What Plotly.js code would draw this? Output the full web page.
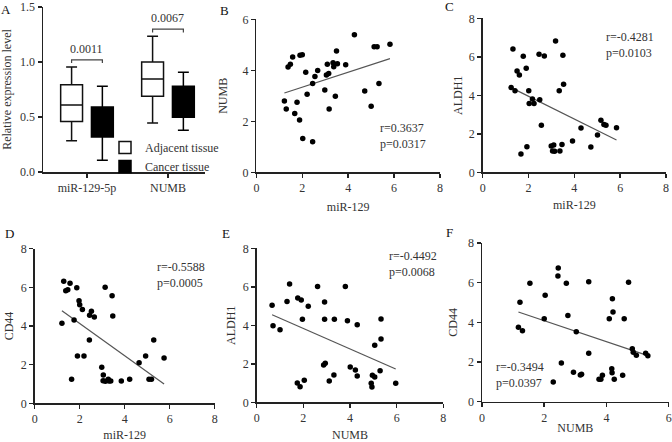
<!DOCTYPE html>
<html><head><meta charset="utf-8">
<script src="https://cdn.plot.ly/plotly-3.0.1.min.js"></script>
<style>html,body{margin:0;padding:0;background:#fff}#chart{width:672px;height:442px}</style>
</head><body><div id="chart"></div><script>
// ---------- Panel A: box plots ----------
const boxCategories = ['miR-129-5p', 'NUMB'];
const groupNames = ['Adjacent tissue', 'Cancer tissue'];
const adjLower = [0.285, 0.445];
const adjQ1 = [0.46, 0.688];
const adjMedian = [0.609, 0.845];
const adjQ3 = [0.794, 1.0];
const adjUpper = [0.955, 1.233];
const canLower = [0.106, 0.379];
const canQ1 = [0.318, 0.497];
const canMedian = [0.45, 0.63];
const canQ3 = [0.59, 0.779];
const canUpper = [0.779, 0.906];
const pValuesA = ['0.0011', '0.0067'];

// ---------- Panel B: miR-129 vs NUMB ----------
const bX = [1.22,1.30,1.38,1.48,1.58,1.67,1.77,1.88,1.90,2.00,2.02,2.15,2.21,2.45,2.45,2.55,2.67,2.98,3.05,3.09,3.15,3.17,3.34,3.37,3.44,3.49,3.53,3.89,4.27,4.72,5.00,5.13,5.26,5.34,5.82];
const bY = [2.80,2.48,4.13,4.24,4.52,2.31,2.75,2.05,4.59,4.61,1.33,3.92,3.06,1.20,3.48,3.76,3.99,3.23,3.82,4.24,3.87,2.48,4.30,4.14,2.98,4.76,4.26,4.22,5.39,3.19,2.59,4.92,4.92,3.48,5.02];
const bFitX = [1.22, 5.82];
const bFitY = [3.11, 4.46];
const bStats = 'r=0.3637<br>p=0.0317';

// ---------- Panel C: miR-129 vs ALDH1 ----------
const cX = [1.24,1.32,1.41,1.50,1.60,1.67,1.77,1.90,1.93,2.01,2.03,2.17,2.24,2.46,2.49,2.56,2.69,2.99,3.05,3.10,3.14,3.18,3.34,3.37,3.46,3.50,3.53,3.92,4.29,4.72,5.01,5.16,5.29,5.38,5.84];
const cY = [4.40,6.41,4.24,5.26,5.06,0.95,6.03,5.40,1.33,4.24,3.58,3.81,3.57,6.13,3.77,2.44,6.04,1.37,1.11,1.42,1.09,6.82,4.24,1.11,1.45,6.08,4.57,1.63,2.30,1.32,1.94,2.70,2.48,2.44,2.32];
const cFitX = [1.24, 5.84];
const cFitY = [4.40, 1.68];
const cStats = 'r=-0.4281<br>p=0.0103';

// ---------- Panel D: miR-129 vs CD44 ----------
const dX = [1.21,1.29,1.38,1.47,1.57,1.64,1.75,1.87,1.90,1.97,2.00,2.12,2.19,2.43,2.44,2.52,2.65,2.98,3.05,3.04,3.14,3.27,3.30,3.38,3.13,3.44,3.47,3.85,4.22,4.64,4.93,5.08,5.19,5.29,5.75];
const dY = [4.14,6.31,5.83,5.88,6.21,1.24,4.31,5.98,2.45,5.31,5.10,4.86,2.45,3.28,4.55,4.76,4.47,1.86,1.47,1.17,1.14,1.24,1.16,1.16,6.00,5.57,4.52,1.16,1.24,2.10,2.45,1.24,1.24,3.28,2.34];
const dFitX = [1.21, 5.75];
const dFitY = [4.79, 1.00];
const dStats = 'r=-0.5588<br>p=0.0005';

// ---------- Panel E: NUMB vs ALDH1 ----------
const eX = [0.66,0.70,1.00,1.30,1.41,1.74,1.76,1.86,1.91,1.96,2.04,2.21,2.61,2.87,2.91,2.91,2.94,3.11,3.31,3.33,3.80,3.89,4.01,4.23,4.31,4.31,4.91,4.94,4.96,5.06,5.06,5.29,5.33,5.33,5.96];
const eY = [5.04,3.98,3.77,5.23,6.15,1.00,5.42,0.81,5.32,4.31,1.14,4.99,6.01,1.94,5.21,4.31,2.03,1.11,1.42,4.31,6.01,4.24,1.84,1.68,4.03,1.37,0.99,0.80,1.40,1.32,2.96,1.64,3.29,4.33,0.99];
const eFitX = [0.66, 5.96];
const eFitY = [4.55, 1.73];
const eStats = 'r=-0.4492<br>p=0.0068';

// ---------- Panel F: NUMB vs CD44 ----------
const fX = [1.17,1.22,1.30,1.54,2.00,2.03,2.29,2.44,2.45,2.55,2.71,2.76,2.94,3.03,3.16,3.20,3.43,3.43,3.76,3.82,3.87,4.09,4.17,4.18,4.19,4.21,4.25,4.52,4.57,4.71,4.83,4.86,4.96,5.26,5.33];
const fY = [3.75,5.01,3.58,5.97,4.18,5.36,0.99,6.34,6.74,1.95,5.97,4.35,1.48,3.53,1.34,1.39,2.44,6.05,1.13,1.13,1.33,4.18,1.66,1.46,5.19,4.52,1.13,1.33,4.18,6.02,2.67,2.49,2.34,2.44,2.32];
const fFitX = [1.17, 5.33];
const fFitY = [4.52, 2.32];
const fStats = 'r=-0.3494<br>p=0.0397';

// ---------- build ----------
const FONT = 'Liberation Serif, Times New Roman, serif';
const TXT = '#333';
const AX = '#222';
const boxOff = 0.19;
const idx = boxCategories.map((c, i) => i);

const traces = [];
traces.push({
  type: 'box', name: groupNames[0], xaxis: 'x', yaxis: 'y',
  x: idx.map(i => i - boxOff), q1: adjQ1, median: adjMedian, q3: adjQ3,
  lowerfence: adjLower, upperfence: adjUpper,
  width: 0.27, whiskerwidth: 0.5, fillcolor: '#ffffff',
  line: {color: '#111', width: 1.5}, boxpoints: false, hoverinfo: 'skip'
});
traces.push({
  type: 'box', name: groupNames[1], xaxis: 'x', yaxis: 'y',
  x: idx.map(i => i + boxOff), q1: canQ1, median: canMedian, q3: canQ3,
  lowerfence: canLower, upperfence: canUpper,
  width: 0.27, whiskerwidth: 0.5, fillcolor: '#000000',
  line: {color: '#000', width: 1.5}, boxpoints: false, hoverinfo: 'skip'
});

const panels = [
  {x: bX, y: bY, fx: bFitX, fy: bFitY, ax: 'x2', ay: 'y2'},
  {x: cX, y: cY, fx: cFitX, fy: cFitY, ax: 'x3', ay: 'y3'},
  {x: dX, y: dY, fx: dFitX, fy: dFitY, ax: 'x4', ay: 'y4'},
  {x: eX, y: eY, fx: eFitX, fy: eFitY, ax: 'x5', ay: 'y5'},
  {x: fX, y: fY, fx: fFitX, fy: fFitY, ax: 'x6', ay: 'y6'}
];
panels.forEach(p => {
  traces.push({type: 'scatter', mode: 'lines', x: p.fx, y: p.fy, xaxis: p.ax, yaxis: p.ay,
    line: {color: '#555', width: 1.2}, showlegend: false, hoverinfo: 'skip'});
  traces.push({type: 'scatter', mode: 'markers', x: p.x, y: p.y, xaxis: p.ax, yaxis: p.ay,
    marker: {color: '#000', size: 5.5}, showlegend: false, hoverinfo: 'skip'});
});

const W = 672, H = 442;
const dx = (a, b) => [a / W, b / W];
const dy = (top, bottom) => [1 - bottom / H, 1 - top / H];

function axis(extra) {
  return Object.assign({
    showgrid: false, zeroline: false, showline: true, linecolor: AX, linewidth: 1.5,
    ticks: 'outside', ticklen: 4, tickwidth: 1.5, tickcolor: AX,
    tickfont: {family: FONT, size: 12, color: TXT}, fixedrange: true
  }, extra);
}
function ttl(text, standoff) {
  return {text: text, font: {family: FONT, size: 12, color: TXT}, standoff: standoff};
}

const layout = {
  width: W, height: H, margin: {l: 0, r: 0, t: 0, b: 0},
  paper_bgcolor: '#fff', plot_bgcolor: 'rgba(0,0,0,0)',
  font: {family: FONT, color: TXT, size: 12},
  showlegend: true,
  legend: {x: 105 / W, y: 1 - 133 / H, xanchor: 'left', yanchor: 'top',
    font: {family: FONT, size: 12, color: TXT}, bgcolor: 'rgba(0,0,0,0)', tracegroupgap: 0},
  boxmode: 'overlay',
  xaxis: axis({domain: dx(43, 205), range: [-0.543, 1.457], anchor: 'y',
    tickvals: idx, ticktext: boxCategories}),
  yaxis: axis({domain: dy(7, 172), range: [0, 1.5], anchor: 'x', dtick: 0.5, tickformat: '.1f',
    title: ttl('Relative expression level', 11)}),
  xaxis2: axis({domain: dx(256.4, 440), range: [0, 8], dtick: 2, anchor: 'y2', title: ttl('miR-129', 8)}),
  yaxis2: axis({domain: dy(19.3, 172.3), range: [0, 6], dtick: 2, anchor: 'x2', title: ttl('NUMB', 12)}),
  xaxis3: axis({domain: dx(482.7, 666), range: [0, 8], dtick: 2, anchor: 'y3', title: ttl('miR-129', 6)}),
  yaxis3: axis({domain: dy(18.3, 172.3), range: [0, 8], dtick: 2, anchor: 'x3', title: ttl('ALDH1', 3)}),
  xaxis4: axis({domain: dx(34.7, 214.7), range: [0, 8], dtick: 2, anchor: 'y4', title: ttl('miR-129', 9)}),
  yaxis4: axis({domain: dy(248.7, 403.3), range: [0, 8], dtick: 2, anchor: 'x4', title: ttl('CD44', 4)}),
  xaxis5: axis({domain: dx(256.7, 443.3), range: [0, 8], dtick: 2, anchor: 'y5', title: ttl('NUMB', 9)}),
  yaxis5: axis({domain: dy(248.3, 402.3), range: [0, 8], dtick: 2, anchor: 'x5', title: ttl('ALDH1', 4)}),
  xaxis6: axis({domain: dx(482, 668.7), range: [0, 6], dtick: 2, anchor: 'y6', title: ttl('NUMB', 0)}),
  yaxis6: axis({domain: dy(243, 401.7), range: [0, 8], dtick: 2, anchor: 'x6', title: ttl('CD44', 8)}),
  shapes: [],
  annotations: []
};

// significance brackets in panel A
idx.forEach(i => {
  const yb = Math.max(adjUpper[i], canUpper[i]) + 0.065;
  const x0 = i - boxOff, x1 = i + boxOff;
  layout.shapes.push({type: 'path', xref: 'x', yref: 'y',
    path: `M${x0},${yb - 0.03} L${x0},${yb} L${x1},${yb} L${x1},${yb - 0.03}`,
    line: {color: '#444', width: 1.2}});
  layout.annotations.push({xref: 'x', yref: 'y', x: i, y: yb + 0.02, yanchor: 'bottom',
    text: pValuesA[i], showarrow: false, font: {family: FONT, size: 12, color: TXT}});
});

// r / p statistics
const statsList = [
  {t: bStats, x: 5.29, y: 1.44, ax: 'x2', ay: 'y2'},
  {t: cStats, x: 5.30, y: 6.61, ax: 'x3', ay: 'y3'},
  {t: dStats, x: 5.33, y: 6.66, ax: 'x4', ay: 'y4'},
  {t: eStats, x: 5.57, y: 7.17, ax: 'x5', ay: 'y5'},
  {t: fStats, x: 0.40, y: 1.34, ax: 'x6', ay: 'y6'}
];
statsList.forEach(s => layout.annotations.push({xref: s.ax, yref: s.ay, x: s.x, y: s.y,
  xanchor: 'left', yanchor: 'middle', align: 'left', text: s.t, showarrow: false,
  font: {family: FONT, size: 12, color: TXT}}));

// panel letters
const letters = [['A', 6, 9], ['B', 224, 10], ['C', 449, 7], ['D', 9, 233], ['E', 226, 233], ['F', 449, 232]];
letters.forEach(l => layout.annotations.push({xref: 'paper', yref: 'paper', x: l[1] / W, y: 1 - l[2] / H,
  xanchor: 'center', yanchor: 'middle', text: l[0], showarrow: false,
  font: {family: FONT, size: 13, color: '#111'}}));

Plotly.newPlot('chart', traces, layout, {displayModeBar: false, staticPlot: true});
</script></body></html>
